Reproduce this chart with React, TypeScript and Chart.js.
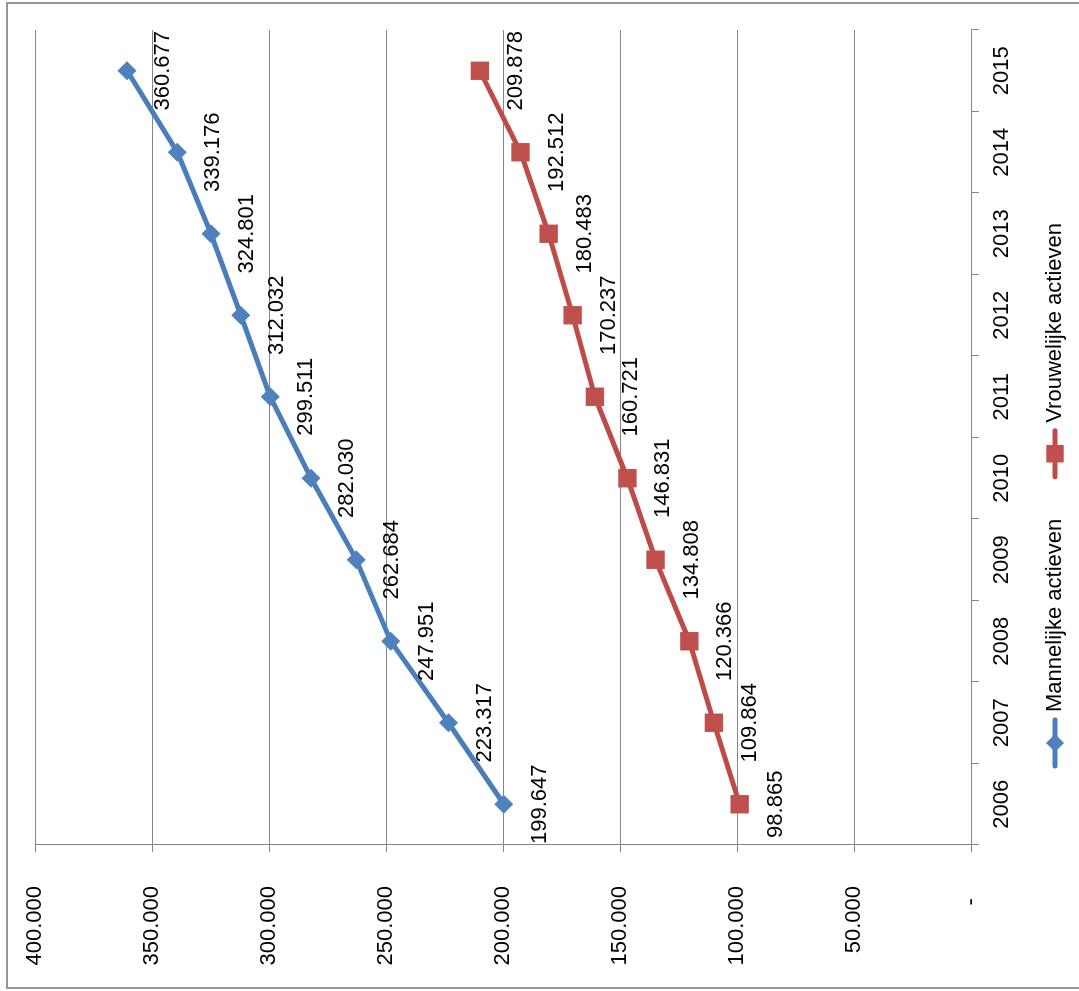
import React, { useEffect, useRef } from 'react';
import { Chart, registerables } from 'chart.js';

Chart.register(...registerables);

// Years on the category axis
const years = ['2006', '2007', '2008', '2009', '2010', '2011', '2012', '2013', '2014', '2015'];
// Active persons per year
const mannelijkeActieven = [199647, 223317, 247951, 262684, 282030, 299511, 312032, 324801, 339176, 360677];
const vrouwelijkeActieven = [98865, 109864, 120366, 134808, 146831, 160721, 170237, 180483, 192512, 209878];
const seriesLabels = ['Mannelijke actieven', 'Vrouwelijke actieven'];
// Value axis range
const valueMin = 0;
const valueMax = 400000;
const valueStep = 50000;

// Canvas is laid out upright and then turned a quarter counter-clockwise
const W = 991;
const H = 1079;
const FONT = '"Liberation Sans", Arial, sans-serif';
const FONT_SIZE = 22;
const GRID = '#868686';
const BLUE_LINE = '#4A7EBB';
const BLUE = '#4F81BD';
const RED_LINE = '#BE4B48';
const RED = '#C0504D';

function formatNl(n: number): string {
  if (n === 0) return '-  ';
  return String(Math.round(n)).replace(/\B(?=(\d{3})+(?!\d))/g, '.');
}

function drawMarker(ctx: CanvasRenderingContext2D, style: string, x: number, y: number, r: number, color: string) {
  ctx.fillStyle = color;
  ctx.beginPath();
  if (style === 'rectRot') {
    ctx.moveTo(x - r, y);
    ctx.lineTo(x, y - r);
    ctx.lineTo(x + r, y);
    ctx.lineTo(x, y + r);
  } else {
    const s = r * Math.SQRT1_2;
    ctx.rect(x - s, y - s, 2 * s, 2 * s);
  }
  ctx.closePath();
  ctx.fill();
}

const framePlugin = {
  id: 'frame',
  beforeDraw(chart: any) {
    const ctx = chart.ctx;
    ctx.save();
    ctx.fillStyle = '#ffffff';
    ctx.fillRect(0, 0, W, H);
    ctx.strokeStyle = '#969696';
    ctx.lineWidth = 2;
    ctx.strokeRect(3, 7, 985, H + 50);
    ctx.restore();
  },
};

const valueLabelPlugin = {
  id: 'valueLabels',
  afterDatasetsDraw(chart: any) {
    const ctx = chart.ctx;
    ctx.save();
    ctx.font = `${FONT_SIZE}px ${FONT}`;
    ctx.fillStyle = '#000000';
    ctx.textAlign = 'center';
    ctx.textBaseline = 'middle';
    chart.data.datasets.forEach((ds: any, i: number) => {
      const meta = chart.getDatasetMeta(i);
      meta.data.forEach((pt: any, j: number) => {
        ctx.fillText(formatNl(ds.data[j]), pt.x, pt.y + 36);
      });
    });
    ctx.restore();
  },
};

const legendPlugin = {
  id: 'lineLegend',
  afterDraw(chart: any) {
    const ctx = chart.ctx;
    ctx.save();
    ctx.font = `${FONT_SIZE}px ${FONT}`;
    const markLen = 50;
    const gap = 6;
    const itemGap = 40;
    const items = chart.data.datasets.map((ds: any) => ({ ds, w: ctx.measureText(ds.label).width }));
    const total = items.reduce((a: number, it: any) => a + markLen + gap + it.w, 0) + itemGap * (items.length - 1);
    let x = W / 2 - total / 2;
    const y = 1055;
    items.forEach((it: any) => {
      const ds = it.ds;
      ctx.strokeStyle = ds.borderColor;
      ctx.lineWidth = ds.borderWidth;
      ctx.lineCap = 'round';
      ctx.beginPath();
      ctx.moveTo(x + 2, y);
      ctx.lineTo(x + markLen - 2, y);
      ctx.stroke();
      drawMarker(ctx, ds.pointStyle, x + markLen / 2, y, ds.pointRadius * 0.95, ds.pointBackgroundColor);
      ctx.fillStyle = '#000000';
      ctx.textAlign = 'left';
      ctx.textBaseline = 'middle';
      ctx.fillText(ds.label, x + markLen + gap, y);
      x += markLen + gap + it.w + itemGap;
    });
    ctx.restore();
  },
};

export default function App() {
  const canvasRef = useRef<HTMLCanvasElement | null>(null);

  useEffect(() => {
    const canvas = canvasRef.current;
    if (!canvas) return;
    const chart = new Chart(canvas, {
      type: 'line',
      data: {
        labels: years,
        datasets: [
          {
            label: seriesLabels[0],
            data: mannelijkeActieven,
            borderColor: BLUE_LINE,
            backgroundColor: BLUE,
            borderWidth: 5,
            borderCapStyle: 'round',
            borderJoinStyle: 'round',
            tension: 0,
            pointStyle: 'rectRot',
            pointRadius: 9.5,
            pointBackgroundColor: BLUE,
            pointBorderColor: BLUE,
            pointBorderWidth: 0,
          },
          {
            label: seriesLabels[1],
            data: vrouwelijkeActieven,
            borderColor: RED_LINE,
            backgroundColor: RED,
            borderWidth: 5,
            borderCapStyle: 'round',
            borderJoinStyle: 'round',
            tension: 0,
            pointStyle: 'rect',
            pointRadius: 13,
            pointBackgroundColor: RED,
            pointBorderColor: RED,
            pointBorderWidth: 0,
          },
        ],
      },
      options: {
        responsive: false,
        animation: false,
        devicePixelRatio: 1,
        layout: { padding: { left: 0, top: 35, right: 30, bottom: 0 } },
        plugins: {
          legend: { display: false },
          tooltip: { enabled: false },
        },
        scales: {
          x: {
            type: 'category',
            offset: true,
            grid: {
              display: true,
              drawOnChartArea: false,
              drawTicks: true,
              tickLength: 8,
              color: GRID,
              offset: true,
            },
            border: { display: true, color: GRID, width: 1 },
            ticks: {
              color: '#000000',
              font: { family: FONT, size: FONT_SIZE },
              padding: 10,
              maxRotation: 0,
              autoSkip: false,
            },
            afterFit: (scale: any) => {
              scale.height = H - 971;
              scale.paddingLeft = 0;
              scale.paddingRight = 0;
            },
          },
          y: {
            min: valueMin,
            max: valueMax,
            ticks: {
              stepSize: valueStep,
              color: '#000000',
              font: { family: FONT, size: FONT_SIZE },
              padding: 34,
              callback: (v: any) => formatNl(Number(v)),
            },
            grid: { color: GRID, tickLength: 7, drawTicks: true },
            border: { display: true, color: GRID, width: 1 },
            afterFit: (scale: any) => {
              scale.width = 146;
              scale.paddingTop = 0;
              scale.paddingBottom = 0;
            },
          },
        },
      },
      plugins: [framePlugin, valueLabelPlugin, legendPlugin],
    } as any);
    return () => chart.destroy();
  }, []);

  return (
    <div style={{ position: 'fixed', left: 0, top: 0, width: 1079, height: 991, overflow: 'hidden', background: '#ffffff' }}>
      <div
        style={{
          position: 'absolute',
          left: 0,
          top: 0,
          width: W,
          height: H,
          transformOrigin: '0 0',
          transform: `translate(0px, ${W}px) rotate(-90deg)`,
        }}
      >
        <canvas ref={canvasRef} width={W} height={H} style={{ display: 'block', width: W, height: H }} />
      </div>
    </div>
  );
}
